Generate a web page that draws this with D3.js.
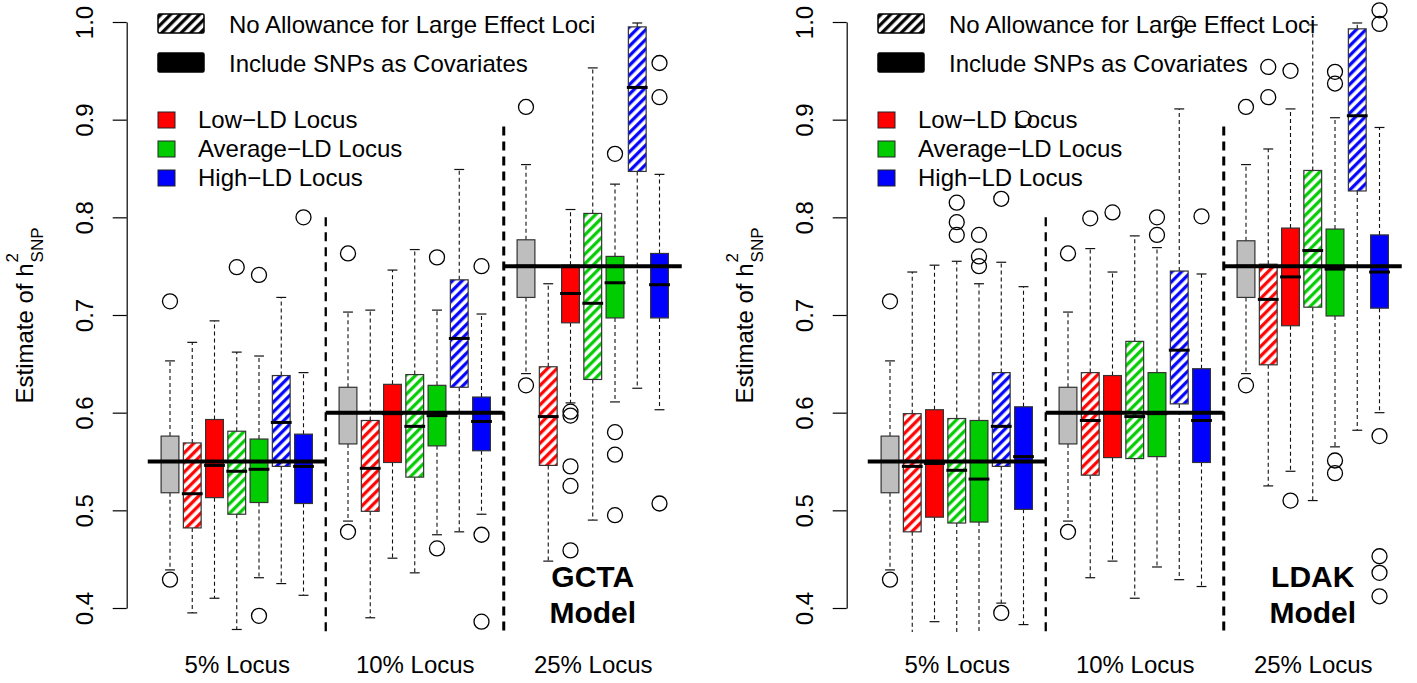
<!DOCTYPE html>
<html>
<head>
<meta charset="utf-8">
<script src="https://cdn.jsdelivr.net/npm/d3@7"></script>
<style>
  body { margin: 0; background: #fff; }
  text { font-family: "Liberation Sans", Arial, Helvetica, sans-serif; }
</style>
</head>
<body>
<div id="chart"></div>
<script>
var svgWidth = 1417;
var svgHeight = 683;

// locus groups and the true h2 drawn as a thick line over each group
var locusLabels = ["5% Locus", "10% Locus", "25% Locus"];
var locusCenters = [4, 12, 20];
var truthValues = [0.55, 0.60, 0.75];
var separatorAt = [8, 16];
var separatorTop = [0.8, 0.893];
var yTicks = [0.4, 0.5, 0.6, 0.7, 0.8, 0.9, 1.0];

// seven boxes per group: reference, then (no allowance, SNPs as covariates) for each locus type
var boxKinds = ["Reference", "Low-LD hatched", "Low-LD", "Average-LD hatched", "Average-LD", "High-LD hatched", "High-LD"];
var boxKindColor = ["gray", "red", "red", "green", "green", "blue", "blue"];
var boxKindHatched = [false, true, false, true, false, true, false];

var panelNames = ["GCTA", "LDAK"];

// [lower whisker, Q1, median, Q3, upper whisker], boxes at positions 1-7, 9-15, 17-23
var gctaStats = [
  [0.439, 0.518, 0.550, 0.576, 0.653],
  [0.395, 0.482, 0.517, 0.569, 0.672],
  [0.410, 0.513, 0.546, 0.593, 0.694],
  [0.378, 0.496, 0.540, 0.581, 0.662],
  [0.431, 0.508, 0.542, 0.573, 0.658],
  [0.425, 0.545, 0.590, 0.638, 0.718],
  [0.413, 0.507, 0.545, 0.578, 0.641],
  [0.489, 0.568, 0.600, 0.626, 0.703],
  [0.390, 0.499, 0.543, 0.592, 0.705],
  [0.451, 0.549, 0.599, 0.629, 0.746],
  [0.436, 0.534, 0.586, 0.639, 0.767],
  [0.475, 0.566, 0.597, 0.628, 0.705],
  [0.478, 0.626, 0.676, 0.736, 0.849],
  [0.496, 0.561, 0.591, 0.616, 0.701],
  [0.640, 0.718, 0.750, 0.777, 0.854],
  [0.448, 0.546, 0.596, 0.647, 0.732],
  [0.610, 0.692, 0.722, 0.751, 0.808],
  [0.490, 0.634, 0.712, 0.804, 0.953],
  [0.611, 0.697, 0.733, 0.760, 0.834],
  [0.625, 0.847, 0.933, 0.995, 0.999],
  [0.603, 0.697, 0.731, 0.763, 0.844]
];
var gctaOutliers = [
  [0.429, 0.714], [], [], [0.749], [0.741, 0.392], [], [0.800],
  [0.478, 0.763], [], [], [], [0.759, 0.461], [], [0.750, 0.475, 0.386],
  [0.628, 0.913], [], [0.601, 0.597, 0.545, 0.525, 0.459], [], [0.865, 0.580, 0.557, 0.495], [], [0.958, 0.923, 0.507]
];

var ldakStats = [
  [0.439, 0.518, 0.550, 0.576, 0.653],
  [0.365, 0.478, 0.545, 0.599, 0.744],
  [0.386, 0.493, 0.548, 0.603, 0.751],
  [0.365, 0.487, 0.541, 0.594, 0.755],
  [0.370, 0.488, 0.532, 0.592, 0.732],
  [0.405, 0.545, 0.586, 0.641, 0.754],
  [0.383, 0.501, 0.555, 0.606, 0.729],
  [0.489, 0.568, 0.600, 0.626, 0.703],
  [0.431, 0.536, 0.592, 0.641, 0.768],
  [0.448, 0.554, 0.600, 0.638, 0.744],
  [0.410, 0.553, 0.596, 0.673, 0.781],
  [0.442, 0.555, 0.599, 0.641, 0.769],
  [0.429, 0.609, 0.664, 0.745, 0.911],
  [0.422, 0.549, 0.592, 0.645, 0.742],
  [0.640, 0.718, 0.750, 0.776, 0.854],
  [0.525, 0.649, 0.716, 0.752, 0.870],
  [0.540, 0.689, 0.739, 0.789, 0.911],
  [0.510, 0.708, 0.766, 0.848, 0.997],
  [0.565, 0.699, 0.747, 0.788, 0.902],
  [0.582, 0.827, 0.904, 0.993, 0.999],
  [0.600, 0.707, 0.744, 0.782, 0.892]
];
var ldakOutliers = [
  [0.429, 0.714], [], [], [0.815, 0.795, 0.782], [0.782, 0.760, 0.750], [0.819, 0.395], [0.901],
  [0.478, 0.763], [0.799], [0.805], [], [0.800, 0.782], [0.998], [0.801],
  [0.628, 0.913], [0.954, 0.923], [0.950, 0.510], [], [0.949, 0.937, 0.551, 0.538], [], [1.012, 0.998, 0.576, 0.453, 0.436, 0.412]
];

var legendTop = ["No Allowance for Large Effect Loci", "Include SNPs as Covariates"];
var legendLoci = ["Low\u2212LD Locus", "Average\u2212LD Locus", "High\u2212LD Locus"];
var legendLociColor = ["red", "green", "blue"];

var colors = { gray: "#BEBEBE", red: "#FF0000", green: "#00CD00", blue: "#0000FF", black: "#000000" };

var svg = d3.select("#chart")
  .append("svg")
  .attr("width", svgWidth)
  .attr("height", svgHeight);

// hatch patterns ("/" stripes)
var hatchStep = 6.8;
var defs = svg.append("defs");
Object.keys(colors).forEach(function(k) {
  var p = defs.append("pattern")
    .attr("id", "hatch-" + k)
    .attr("patternUnits", "userSpaceOnUse")
    .attr("width", hatchStep)
    .attr("height", hatchStep)
    .attr("patternTransform", "rotate(45)");
  p.append("rect").attr("width", hatchStep).attr("height", hatchStep).attr("fill", "#fff");
  p.append("line")
    .attr("x1", hatchStep / 4).attr("y1", 0).attr("x2", hatchStep / 4).attr("y2", hatchStep)
    .attr("stroke", colors[k])
    .attr("stroke-width", 3.2);
});

defs.append("clipPath").attr("id", "plot-clip")
  .append("rect")
  .attr("x", 127).attr("y", -2)
  .attr("width", 580).attr("height", 634);

var x = d3.scaleLinear().domain([1, 23]).range([170, 659.5]);
var y = d3.scaleLinear().domain([0.4, 1.0]).range([608, 22]);
var boxW = (x(2) - x(1)) * 0.8;

function boxPos(i) {
  return 1 + i + Math.floor(i / 7);
}

function drawPanel(offset, name, stats, outliers) {
  var g = svg.append("g").attr("transform", `translate(${offset},0)`);
  var plot = g.append("g").attr("clip-path", "url(#plot-clip)");

  stats.forEach(function(s, i) {
    var cx = x(boxPos(i));
    var kind = i % 7;
    var col = boxKindColor[kind];
    var b = plot.append("g");

    // whiskers
    b.append("line")
      .attr("x1", cx).attr("x2", cx)
      .attr("y1", y(s[3])).attr("y2", y(s[4]))
      .attr("stroke", "#111").attr("stroke-width", 1.1)
      .attr("stroke-dasharray", "4,3");
    b.append("line")
      .attr("x1", cx).attr("x2", cx)
      .attr("y1", y(s[1])).attr("y2", y(s[0]))
      .attr("stroke", "#111").attr("stroke-width", 1.1)
      .attr("stroke-dasharray", "4,3");
    [s[0], s[4]].forEach(function(v) {
      b.append("line")
        .attr("x1", cx - boxW / 4 - 0.5).attr("x2", cx + boxW / 4 + 0.5)
        .attr("y1", y(v)).attr("y2", y(v))
        .attr("stroke", "#111").attr("stroke-width", 1.2);
    });

    // box
    b.append("rect")
      .attr("x", cx - boxW / 2)
      .attr("y", y(s[3]))
      .attr("width", boxW)
      .attr("height", y(s[1]) - y(s[3]))
      .attr("fill", boxKindHatched[kind] ? "url(#hatch-" + col + ")" : colors[col])
      .attr("stroke", "#333")
      .attr("stroke-width", 1.2);

    // median
    b.append("line")
      .attr("x1", cx - boxW / 2 - 1.5).attr("x2", cx + boxW / 2 + 1.5)
      .attr("y1", y(s[2])).attr("y2", y(s[2]))
      .attr("stroke", "#000").attr("stroke-width", 3);

    // outliers
    b.selectAll("circle")
      .data(outliers[i])
      .enter()
      .append("circle")
      .attr("cx", cx)
      .attr("cy", d => y(d))
      .attr("r", 7.5)
      .attr("fill", "none")
      .attr("stroke", "#000")
      .attr("stroke-width", 1.3);
  });

  // true value lines
  truthValues.forEach(function(t, k) {
    plot.append("line")
      .attr("x1", x(k * 8)).attr("x2", x(k * 8 + 8))
      .attr("y1", y(t)).attr("y2", y(t))
      .attr("stroke", "#000").attr("stroke-width", 4);
  });

  // group separators
  separatorAt.forEach(function(a, k) {
    plot.append("line")
      .attr("x1", x(a)).attr("x2", x(a))
      .attr("y1", y(separatorTop[k])).attr("y2", 640)
      .attr("stroke", "#000")
      .attr("stroke-width", k === 0 ? 2.3 : 3)
      .attr("stroke-dasharray", "9,6");
  });

  // y axis
  var yAxis = g.append("g")
    .attr("transform", "translate(126.7,0)")
    .call(d3.axisLeft(y).tickValues(yTicks).tickFormat(d3.format(".1f")).tickSize(14).tickSizeOuter(0));
  yAxis.select(".domain").attr("stroke-width", 1.2);
  yAxis.selectAll(".tick line").attr("stroke-width", 1.2);
  yAxis.selectAll(".tick text")
    .attr("x", 0).attr("dy", 0)
    .attr("transform", "translate(-33.7,0) rotate(-90)")
    .attr("text-anchor", "middle")
    .attr("font-size", 24)
    .attr("font-family", "Liberation Sans, Arial, sans-serif");

  // x labels
  var xAxis = g.append("g")
    .attr("transform", "translate(0,673)")
    .call(d3.axisBottom(x).tickValues(locusCenters).tickFormat((d, i) => locusLabels[i]).tickSize(0));
  xAxis.select(".domain").remove();
  xAxis.selectAll(".tick text")
    .attr("y", 0).attr("dy", 0)
    .attr("font-size", 24)
    .attr("font-family", "Liberation Sans, Arial, sans-serif");

  // y label
  var yl = g.append("g").attr("transform", "translate(33,316) rotate(-90)");
  var main = yl.append("text").attr("font-size", 24).text("Estimate of h");
  var sup = yl.append("text").attr("font-size", 17).attr("y", -15).text("2");
  var sub = yl.append("text").attr("font-size", 17).attr("y", 10).text("SNP");
  var w = main.node().getComputedTextLength();
  var total = w + sub.node().getComputedTextLength();
  main.attr("x", -total / 2);
  sup.attr("x", -total / 2 + w + 1);
  sub.attr("x", -total / 2 + w + 1);

  // model name
  var mt = g.append("text")
    .attr("x", x(20))
    .attr("text-anchor", "middle")
    .attr("font-size", 30)
    .attr("font-weight", "bold");
  mt.append("tspan").attr("x", x(20)).attr("y", 587).text(name);
  mt.append("tspan").attr("x", x(20)).attr("y", 623).text("Model");

  // legends
  legendTop.forEach(function(label, k) {
    g.append("rect")
      .attr("x", 158).attr("y", 14 + k * 39)
      .attr("width", 46).attr("height", 19)
      .attr("rx", 1.5)
      .attr("fill", k === 0 ? "url(#hatch-black)" : "#000")
      .attr("stroke", "#000").attr("stroke-width", 1.5);
    g.append("text")
      .attr("x", 229).attr("y", 33 + k * 39)
      .attr("font-size", 24)
      .text(label);
  });
  legendLoci.forEach(function(label, k) {
    g.append("rect")
      .attr("x", 158).attr("y", 112 + k * 29)
      .attr("width", 17).attr("height", 16)
      .attr("fill", colors[legendLociColor[k]])
      .attr("stroke", "#222").attr("stroke-width", 1);
    g.append("text")
      .attr("x", 198).attr("y", 128 + k * 29)
      .attr("font-size", 24)
      .text(label);
  });
}

drawPanel(0, panelNames[0], gctaStats, gctaOutliers);
drawPanel(720, panelNames[1], ldakStats, ldakOutliers);
</script>
</body>
</html>
